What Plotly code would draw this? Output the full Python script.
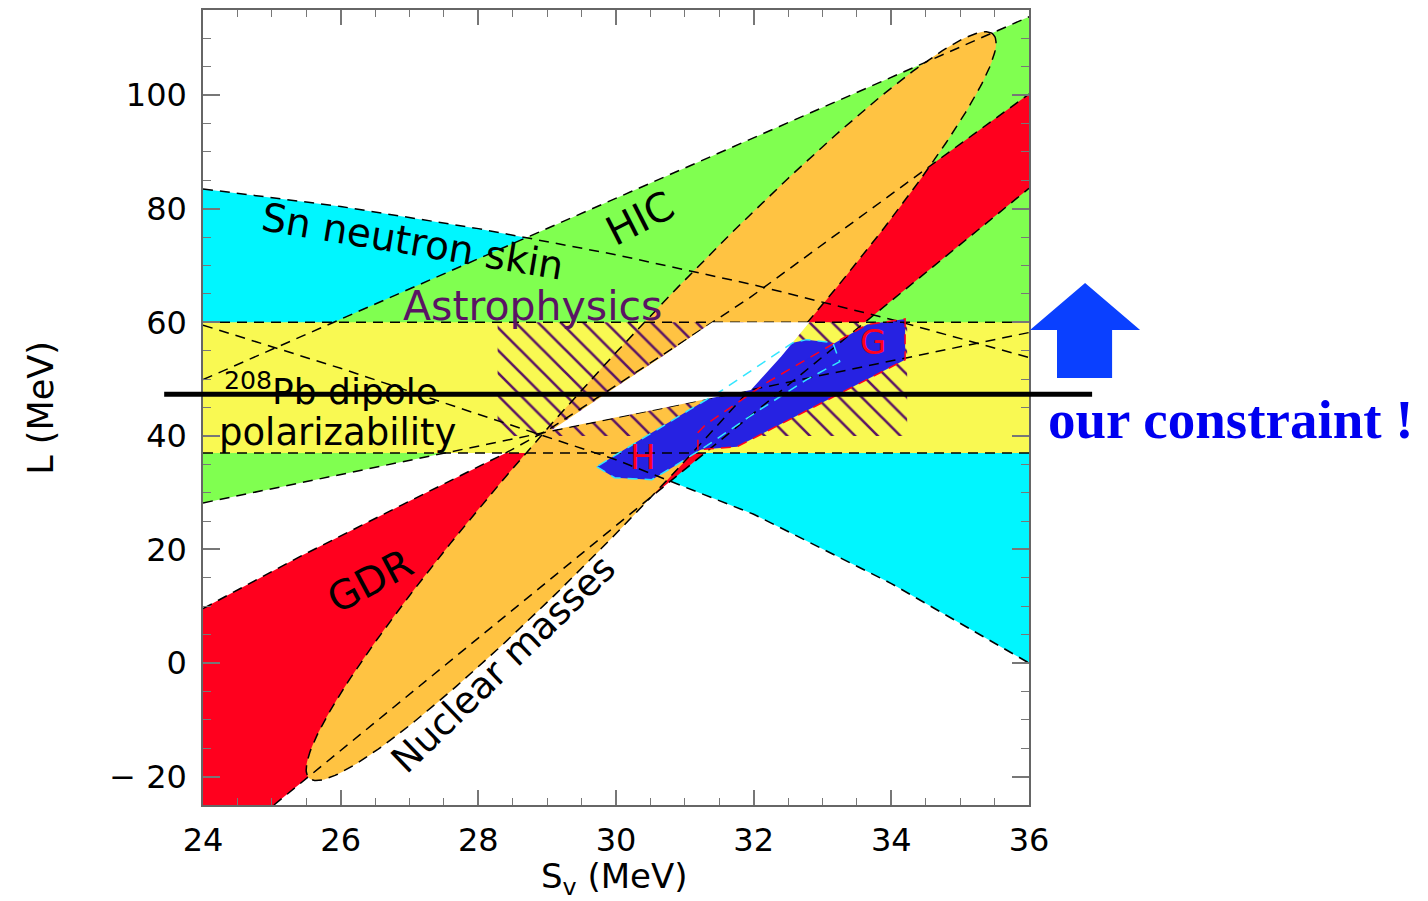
import numpy as np
import plotly.graph_objects as go

# ---------------- axis ticks ----------------
X_TICKS = [24, 26, 28, 30, 32, 34, 36]
X_TICK_LABELS = ["24", "26", "28", "30", "32", "34", "36"]
Y_TICKS = [-20, 0, 20, 40, 60, 80, 100]
Y_TICK_LABELS = ["\u2212 20", "0", "20", "40", "60", "80", "100"]

# ---------------- constraint bands (S_v in MeV, L in MeV) ----------------
# Sn neutron skin: upper and lower edges
SN_UPPER_SV = [24, 26, 28, 30, 32, 34, 36]
SN_UPPER_L = [83.5, 80.4, 76.5, 71.9, 66.6, 60.5, 53.8]
SN_LOWER_SV = [24, 26, 28, 30, 32, 34, 36]
SN_LOWER_L = [59.5, 51.9, 43.8, 35.8, 26.2, 14.0, 0.0]

# Heavy-ion collisions
HIC_UPPER_SV = [24, 36]
HIC_UPPER_L = [49.9, 113.8]
HIC_LOWER_SV = [24, 36]
HIC_LOWER_L = [28.2, 58.2]

# Giant dipole resonance
GDR_UPPER_SV = [24, 25.4, 26.9, 28.4, 29.06, 31.4, 31.94, 34.66, 36]
GDR_UPPER_L = [9.6, 18.7, 27.9, 37.0, 41.4, 60.0, 64.3, 88.4, 100.2]
GDR_LOWER_SV = [25.03, 36]
GDR_LOWER_L = [-25.0, 83.6]

# 208Pb dipole polarizability band
DIPOLE_L = [37.0, 60.0]

# Astrophysics (hatched box)
ASTRO_SV = [28.28, 34.23]
ASTRO_L = [40.0, 60.0]

# Nuclear masses ellipse: centre and two conjugate semi-diameters
MASS_CENTER = [30.51, 45.24]
MASS_SEMI_A = [4.967, 65.52]
MASS_SEMI_B = [0.664, -7.41]

# Region allowed by all experimental constraints
CONSENSUS_SV = [29.06, 30.0, 30.7, 31.4, 32.81, 32.40, 31.96, 30.5, 29.06]
CONSENSUS_L = [41.0, 48.6, 54.2, 60.0, 60.0, 54.0, 48.1, 44.45, 41.0]

# Neutron-matter bounds G and H
G_SV = [31.19, 31.19, 31.30, 32.19, 33.21, 33.65, 34.20, 34.20, 31.76, 31.19]
G_L = [37.57, 40.57, 41.98, 49.38, 56.60, 59.60, 60.60, 53.40, 38.10, 37.57]
H_SV = [29.72, 29.98, 30.52, 30.86, 31.32, 32.09, 32.77, 33.25, 33.15, 32.77,
        32.57, 31.51, 31.07, 30.35, 29.72]
H_L = [34.58, 32.64, 32.29, 34.76, 38.28, 44.62, 49.91, 53.07, 56.42, 56.95,
       56.42, 47.79, 44.62, 39.34, 34.58]

# Our constraint on L
OUR_L = 47.35

X_RANGE = [24, 36]
Y_RANGE = [-25, 115]

# ---------------- colours ----------------
CYAN = "#00F6FF"
GREEN = "#80FF50"
RED = "#FF001E"
YELLOW = "#F9F952"
ORANGE = "#FFC342"
HATCH = "#5A1464"
BLUE = "#2622E2"
ARROW_BLUE = "#0A40FF"
TEXT_BLUE = "#0000F0"
DASH = "10px,7px"
FONT = "DejaVu Sans"

fig = go.Figure()


def band(xs, ys, color):
    fig.add_trace(go.Scatter(x=xs, y=ys, fill="toself", fillcolor=color,
                             mode="none", hoverinfo="skip", showlegend=False))


def dashed(xs, ys, color="black", width=1.5):
    fig.add_trace(go.Scatter(x=xs, y=ys, mode="lines",
                             line=dict(color=color, width=width, dash=DASH),
                             hoverinfo="skip", showlegend=False))


# Sn neutron skin
band(SN_UPPER_SV + SN_LOWER_SV[::-1], SN_UPPER_L + SN_LOWER_L[::-1], CYAN)
# HIC
band(HIC_UPPER_SV + HIC_LOWER_SV[::-1], HIC_UPPER_L + HIC_LOWER_L[::-1], GREEN)
# GDR (closed along the bottom-left corner of the frame)
band(GDR_UPPER_SV + GDR_LOWER_SV[::-1] + [X_RANGE[0]],
     GDR_UPPER_L + GDR_LOWER_L[::-1] + [Y_RANGE[0]], RED)
# dipole polarizability band
band([X_RANGE[0], X_RANGE[1], X_RANGE[1], X_RANGE[0]],
     [DIPOLE_L[0], DIPOLE_L[0], DIPOLE_L[1], DIPOLE_L[1]], YELLOW)

# Nuclear masses ellipse
t = np.linspace(0, 2 * np.pi, 361)
ell_x = MASS_CENTER[0] + MASS_SEMI_A[0] * np.cos(t) + MASS_SEMI_B[0] * np.sin(t)
ell_y = MASS_CENTER[1] + MASS_SEMI_A[1] * np.cos(t) + MASS_SEMI_B[1] * np.sin(t)
band(list(ell_x), list(ell_y), ORANGE)

# Astrophysics hatching
fig.add_trace(go.Scatter(
    x=[ASTRO_SV[0], ASTRO_SV[1], ASTRO_SV[1], ASTRO_SV[0], ASTRO_SV[0]],
    y=[ASTRO_L[0], ASTRO_L[0], ASTRO_L[1], ASTRO_L[1], ASTRO_L[0]],
    fill="toself", mode="none", fillcolor="rgba(0,0,0,0)",
    fillpattern=dict(shape="\\", fgcolor=HATCH, bgcolor="rgba(0,0,0,0)",
                     size=16, solidity=0.16, fillmode="replace"),
    hoverinfo="skip", showlegend=False))

# G and H regions
band(H_SV, H_L, BLUE)
band(G_SV, G_L, BLUE)

# band edges
dashed(SN_UPPER_SV, SN_UPPER_L)
dashed(SN_LOWER_SV, SN_LOWER_L)
dashed(HIC_UPPER_SV, HIC_UPPER_L)
dashed(HIC_LOWER_SV, HIC_LOWER_L)
dashed(GDR_UPPER_SV, GDR_UPPER_L)
dashed(GDR_LOWER_SV, GDR_LOWER_L)
dashed(list(ell_x), list(ell_y))
for lv in DIPOLE_L:
    dashed(X_RANGE, [lv, lv])

# consensus region
band(CONSENSUS_SV, CONSENSUS_L, "white")

# G / H outlines
dashed(G_SV, G_L, color=RED, width=1.5)
dashed(H_SV, H_L, color="#33E6FF", width=1.5)

# ---------------- annotations ----------------
def label(x, y, text, size, color="black", angle=0, xanchor="center",
          family=FONT, xref="x", yref="y", weight="normal"):
    fig.add_annotation(x=x, y=y, xref=xref, yref=yref, text=text,
                       showarrow=False, textangle=angle, xanchor=xanchor,
                       yanchor="middle",
                       font=dict(family=family, size=size, color=color,
                                 weight=weight))


label(27.05, 74.2, "Sn neutron skin", 39, angle=9.4)
label(30.35, 78.4, "HIC", 40, angle=-27)
label(28.79, 62.9, "Astrophysics", 41, color=HATCH)
label(24.27, 48.3, "<sup>208</sup>Pb dipole", 36, xanchor="left")
label(24.21, 40.6, "polarizability", 37, xanchor="left")
label(26.42, 14.5, "GDR", 40, angle=-28)
label(28.36, -0.3, "Nuclear masses", 37, angle=-44)
label(30.39, 36.2, "H", 34, color=RED)
label(33.73, 56.6, "G", 34, color=RED)

# axis titles
label(0.4985, -0.092, "S<sub>v</sub> (MeV)", 34, xref="paper", yref="paper")
label(-0.197, 0.5, "L (MeV)", 35, angle=-90, xref="paper", yref="paper")

# side caption
label(1.021, 0.4855, "our constraint !", 55, color=TEXT_BLUE, xanchor="left",
      family="Liberation Serif", xref="paper", yref="paper", weight="bold")

# our constraint line, running past both sides of the frame
fig.add_shape(type="line", xref="paper", yref="y", x0=-0.047, x1=1.0764,
              y0=OUR_L, y1=OUR_L, line=dict(color="black", width=5),
              layer="above")

# upward arrow
fig.add_shape(type="path", xref="paper", yref="paper", layer="above",
              path=("M 1.0012 0.5975 L 1.0679 0.6566 L 1.1345 0.5975 "
                    "L 1.1006 0.5975 L 1.1006 0.5371 L 1.0339 0.5371 "
                    "L 1.0339 0.5975 Z"),
              fillcolor=ARROW_BLUE, line=dict(width=0))

axis_common = dict(showgrid=False, zeroline=False, showline=True,
                   linecolor="#666666", linewidth=1.5, mirror="ticks",
                   ticks="inside", tickcolor="#777777", tickwidth=1.5,
                   tickfont=dict(family=FONT, size=32, color="black"),
                   tickmode="array", automargin=False)

fig.update_xaxes(range=X_RANGE, tickvals=X_TICKS, ticktext=X_TICK_LABELS,
                 ticklen=15, ticklabelstandoff=6,
                 minor=dict(tickmode="linear", tick0=24, dtick=0.5,
                            ticks="inside", ticklen=7, tickcolor="#777777",
                            tickwidth=1.2),
                 **axis_common)
fig.update_yaxes(range=Y_RANGE, tickvals=Y_TICKS, ticktext=Y_TICK_LABELS,
                 ticklen=17, ticklabelstandoff=8,
                 minor=dict(tickmode="linear", tick0=0, dtick=5,
                            ticks="inside", ticklen=8, tickcolor="#777777",
                            tickwidth=1.2),
                 **axis_common)

fig.update_layout(width=1428, height=901,
                  margin=dict(l=203, r=399, t=10, b=96, autoexpand=False),
                  plot_bgcolor="white", paper_bgcolor="white",
                  showlegend=False)

fig.write_html("out.html")
